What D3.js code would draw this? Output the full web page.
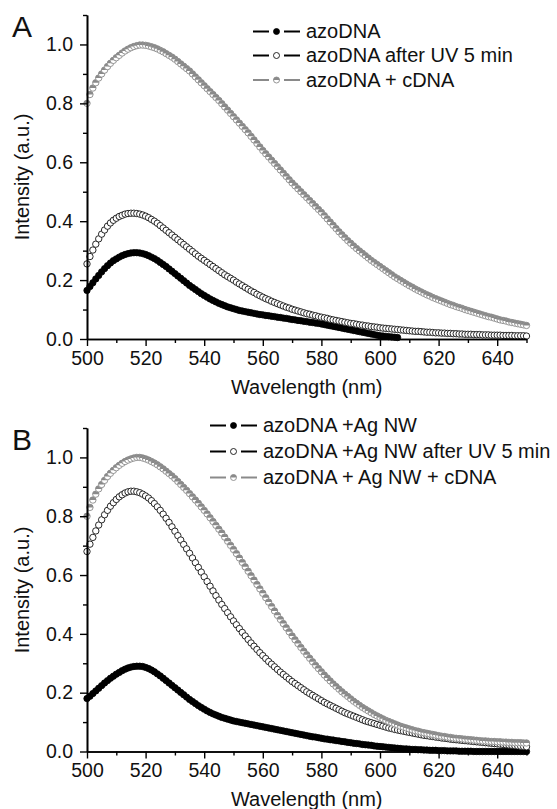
<!DOCTYPE html>
<html><head><meta charset="utf-8">
<script src="https://cdn.jsdelivr.net/npm/d3@7"></script>
<style>
body{margin:0;background:#fff}
svg{display:block}
text{font-family:"Liberation Sans",Arial,sans-serif;fill:#111}
</style>
</head><body>
<svg id="c" width="557" height="809"></svg>
<script>
// ---------------- data ----------------
const wavelengths = d3.range(500, 651, 1); // nm, 1 nm sampling
const xTickValues = [500, 520, 540, 560, 580, 600, 620, 640];
const xMinorValues = [510, 530, 550, 570, 590, 610, 630, 650];
const yTickValues = [0, 0.2, 0.4, 0.6, 0.8, 1.0];
const yMinorValues = [0.1, 0.3, 0.5, 0.7, 0.9, 1.1];
const xTitle = "Wavelength (nm)";
const yTitle = "Intensity (a.u.)";
const legendA = ["azoDNA", "azoDNA after UV 5 min", "azoDNA + cDNA"];
const legendB = ["azoDNA +Ag NW", "azoDNA +Ag NW after UV 5 min", "azoDNA + Ag NW + cDNA"];

// Panel A (null = no visible point)
const aBlack = [
.165,.178,.191,.204,.216,.228,.239,.249,.258,.266,
.272,.278,.283,.287,.290,.292,.293,.293,.292,.290,
.287,.283,.278,.273,.267,.260,.253,.246,.238,.230,
.222,.214,.206,.198,.190,.182,.175,.168,.161,.154,
.148,.142,.136,.131,.126,.121,.117,.113,.109,.106,
.103,.100,.097,.095,.093,.091,.089,.087,.085,.083,
.082,.080,.079,.077,.076,.074,.073,.071,.070,.068,
.066,.065,.063,.062,.060,.059,.057,.056,.054,.053,
.051,.049,.047,.045,.043,.041,.039,.037,.035,.033,
.031,.029,.027,.025,.023,.021,.019,.017,.015,.013,
.011,.010,.009,.008,.007,.006,.005,null,null,null,
null,null,null,null,null,null,null,null,null,null,
null,null,null,null,null,null,null,null,null,null,
null,null,null,null,null,null,null,null,null,null,
null,null,null,null,null,null,null,null,null,null,
null];
const aOpen = [
.255,.280,.302,.322,.340,.356,.370,.383,.394,.403,
.410,.416,.420,.424,.426,.427,.427,.426,.424,.421,
.417,.412,.406,.400,.393,.385,.377,.369,.361,.353,
.345,.337,.329,.321,.313,.305,.297,.289,.281,.274,
.267,.260,.253,.246,.239,.232,.225,.218,.212,.206,
.200,.193,.187,.181,.175,.169,.163,.158,.152,.147,
.142,.137,.133,.128,.124,.120,.116,.112,.108,.105,
.101,.098,.095,.092,.089,.086,.084,.081,.079,.076,
.074,.072,.070,.067,.065,.063,.061,.059,.057,.055,
.053,.052,.050,.048,.047,.045,.044,.042,.041,.040,
.038,.037,.036,.035,.034,.033,.032,.031,.030,.029,
.028,.027,.026,.026,.025,.024,.023,.023,.022,.021,
.021,.020,.020,.019,.019,.018,.018,.017,.017,.016,
.016,.016,.015,.015,.015,.014,.014,.014,.013,.013,
.013,.013,.012,.012,.012,.012,.011,.011,.011,.011,
.010];
const aGray = [
.800,.830,.852,.870,.886,.900,.913,.925,.936,.946,
.955,.963,.971,.978,.984,.989,.993,.996,.998,.998,
.997,.995,.992,.989,.985,.980,.975,.969,.963,.957,
.950,.942,.934,.926,.918,.910,.900,.890,.880,.870,
.860,.850,.840,.830,.820,.810,.799,.788,.777,.766,
.755,.744,.733,.722,.711,.700,.688,.676,.664,.652,
.640,.629,.618,.607,.596,.585,.574,.563,.552,.541,
.530,.520,.510,.500,.490,.480,.470,.460,.450,.440,
.430,.419,.408,.397,.386,.375,.364,.354,.344,.334,
.325,.316,.307,.299,.291,.283,.275,.267,.260,.253,
.246,.239,.232,.225,.218,.211,.205,.199,.193,.187,
.181,.176,.170,.165,.160,.155,.150,.146,.141,.137,
.133,.129,.125,.121,.117,.114,.110,.107,.104,.100,
.097,.094,.091,.088,.085,.082,.079,.076,.074,.071,
.068,.065,.063,.061,.058,.056,.054,.052,.050,.048,
.046];

// Panel B
const bBlack = [
.180,.188,.197,.206,.215,.224,.233,.241,.249,.256,
.263,.269,.275,.280,.284,.287,.289,.290,.290,.289,
.286,.282,.277,.271,.264,.257,.249,.241,.233,.225,
.217,.209,.201,.193,.185,.177,.170,.163,.156,.150,
.144,.138,.133,.128,.124,.120,.116,.113,.110,.107,
.104,.102,.100,.098,.096,.094,.092,.090,.088,.086,
.084,.082,.080,.078,.076,.074,.072,.070,.068,.066,
.064,.062,.060,.058,.056,.054,.052,.050,.049,.047,
.045,.043,.042,.040,.039,.037,.036,.034,.033,.031,
.030,.028,.027,.026,.024,.023,.022,.021,.019,.018,
.017,.016,.015,.014,.013,.012,.011,.010,.009,.009,
.008,.007,.007,.006,.006,.005,.005,.004,.004,.004,
.003,.003,.003,.002,.002,.002,.002,.001,.001,.001,
.001,.001,0,0,0,0,0,0,0,0,
0,0,0,0,0,0,0,0,0,0,
0];
const bOpen = [
.680,.705,.728,.750,.770,.788,.805,.820,.834,.846,
.857,.866,.873,.879,.883,.885,.885,.883,.880,.875,
.869,.862,.853,.843,.832,.820,.807,.793,.779,.764,
.749,.734,.719,.704,.689,.674,.658,.642,.626,.610,
.594,.578,.562,.546,.530,.515,.500,.486,.472,.458,
.444,.431,.418,.405,.393,.381,.369,.358,.347,.336,
.326,.316,.306,.297,.288,.279,.270,.262,.254,.246,
.238,.231,.224,.217,.210,.203,.197,.191,.185,.179,
.173,.167,.162,.157,.152,.147,.142,.137,.132,.128,
.124,.120,.116,.112,.108,.104,.101,.098,.095,.092,
.089,.086,.083,.080,.078,.075,.073,.071,.069,.067,
.065,.063,.061,.059,.057,.055,.054,.052,.051,.049,
.048,.046,.045,.044,.042,.041,.040,.039,.038,.037,
.036,.035,.034,.033,.032,.031,.030,.029,.028,.027,
.026,.025,.024,.023,.022,.021,.020,.019,.018,.017,
.016];
const bGray = [
.800,.830,.855,.875,.893,.908,.922,.935,.946,.956,
.965,.973,.980,.986,.991,.995,.998,1.0,1.0,.998,
.995,.991,.986,.981,.975,.968,.961,.953,.945,.937,
.928,.918,.908,.898,.888,.877,.866,.855,.844,.832,
.820,.808,.795,.782,.769,.756,.743,.729,.715,.701,
.687,.673,.658,.643,.628,.613,.598,.583,.568,.553,
.538,.523,.508,.493,.478,.463,.449,.435,.421,.407,
.393,.380,.367,.354,.341,.329,.317,.305,.293,.282,
.271,.260,.250,.240,.230,.221,.212,.203,.195,.187,
.179,.171,.164,.157,.150,.144,.138,.132,.126,.121,
.116,.111,.106,.102,.098,.094,.090,.086,.083,.080,
.077,.074,.071,.069,.066,.064,.062,.060,.058,.056,
.054,.052,.051,.049,.048,.046,.045,.044,.043,.042,
.041,.040,.039,.038,.037,.036,.036,.035,.034,.034,
.033,.033,.032,.032,.031,.031,.030,.030,.030,.029,
.029];

// ---------------- drawing ----------------
const GRAY = "#8a8a8a";
const svg = d3.select("#c");

const panels = [
  {letter:"A", top:15, bottom:339, letterY:37, series:[aBlack, aOpen, aGray], legend:legendA,
   legX:253, legY:[38, 62, 86.5], titleY:394, yTitleY:177},
  {letter:"B", top:428, bottom:751.5, letterY:450, series:[bBlack, bOpen, bGray], legend:legendB,
   legX:210, legY:[432, 458, 484], titleY:806, yTitleY:590}
];
const left = 87, right = 526.5, R = 3.2;

function marker(g, kind, r) {
  if (kind === 0) {
    g.append("circle").attr("r", r).attr("fill", "#000").attr("stroke", "#000").attr("stroke-width", 0.8);
  } else if (kind === 1) {
    g.append("circle").attr("r", r).attr("fill", "#fff").attr("stroke", "#111").attr("stroke-width", 0.9);
  } else {
    g.append("circle").attr("r", r).attr("fill", "#fff").attr("stroke", GRAY).attr("stroke-width", 0.9);
    g.append("path").attr("d", `M${-r},0A${r},${r} 0 0 1 ${r},0Z`).attr("fill", GRAY);
  }
}

panels.forEach(p => {
  const x = d3.scaleLinear().domain([500, 650]).range([left, right]);
  const y = d3.scaleLinear().domain([0, 1.1]).range([p.bottom, p.top]);
  const g = svg.append("g");

  // series
  p.series.forEach((vals, k) => {
    const sg = g.append("g");
    vals.forEach((v, i) => {
      if (v === null) return;
      const m = sg.append("g").attr("transform", `translate(${x(wavelengths[i])},${y(v)})`);
      marker(m, k, R);
    });
  });

  // axes
  g.append("g").attr("transform", `translate(0,${p.bottom})`)
    .call(d3.axisBottom(x).tickValues(xTickValues).tickSize(7).tickSizeOuter(0).tickPadding(5).tickFormat(d3.format("d")));
  g.append("g").attr("transform", `translate(0,${p.bottom})`)
    .call(d3.axisBottom(x).tickValues(xMinorValues).tickSize(4).tickSizeOuter(0).tickFormat(""));
  g.append("g").attr("transform", `translate(${left},0)`)
    .call(d3.axisLeft(y).tickValues(yTickValues).tickSize(7).tickSizeOuter(0).tickPadding(7).tickFormat(d3.format(".1f")));
  g.append("g").attr("transform", `translate(${left},0)`)
    .call(d3.axisLeft(y).tickValues(yMinorValues).tickSize(4).tickSizeOuter(0).tickFormat(""));
  g.selectAll(".domain").attr("stroke", "#000").attr("stroke-width", 1.6);
  g.selectAll(".tick line").attr("stroke", "#000").attr("stroke-width", 1.4);
  g.selectAll(".tick text").attr("font-size", 19.5).attr("font-family", "Liberation Sans, Arial, sans-serif").attr("fill", "#111");

  // titles
  g.append("text").attr("x", (left + right) / 2).attr("y", p.titleY)
    .attr("text-anchor", "middle").attr("font-size", 20).text(xTitle);
  g.append("text").attr("transform", `translate(29,${p.yTitleY}) rotate(-90)`)
    .attr("text-anchor", "middle").attr("font-size", 20).text(yTitle);
  g.append("text").attr("x", 12).attr("y", p.letterY).attr("font-size", 30).text(p.letter);

  // legend
  p.legend.forEach((t, k) => {
    const ly = p.legY[k] - 6.5;
    const col = k === 2 ? GRAY : "#000";
    g.append("line").attr("x1", p.legX).attr("x2", p.legX + 16).attr("y1", ly).attr("y2", ly)
      .attr("stroke", col).attr("stroke-width", 2);
    g.append("line").attr("x1", p.legX + 31).attr("x2", p.legX + 47).attr("y1", ly).attr("y2", ly)
      .attr("stroke", col).attr("stroke-width", 2);
    const m = g.append("g").attr("transform", `translate(${p.legX + 23.5},${ly})`);
    marker(m, k, 3);
    g.append("text").attr("x", p.legX + 53).attr("y", p.legY[k]).attr("font-size", 20).text(t);
  });
});
</script>
</body></html>
